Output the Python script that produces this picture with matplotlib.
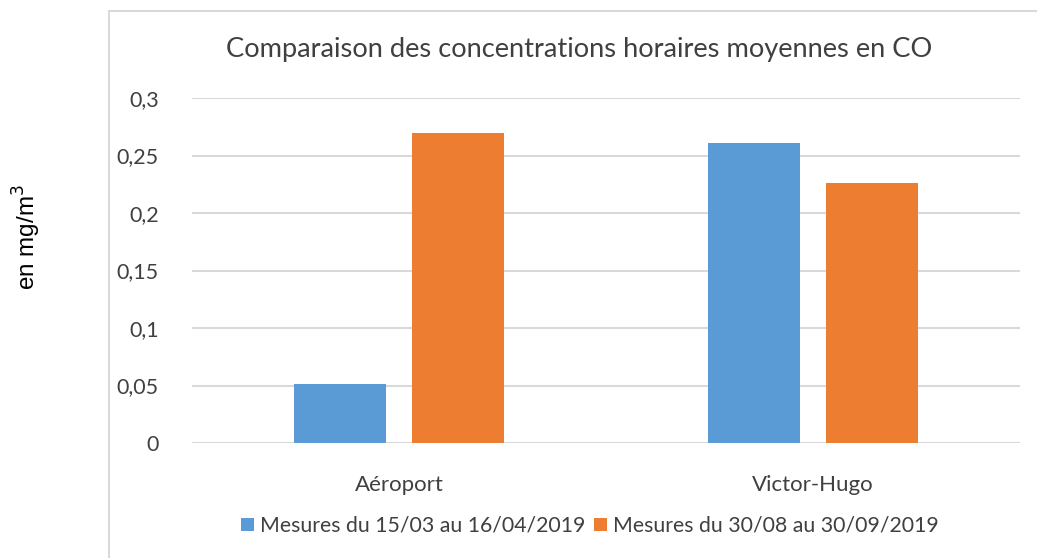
import matplotlib
matplotlib.use("Agg")
import matplotlib.pyplot as plt
import numpy as np
from matplotlib.patches import Rectangle

categories = ["Aéroport", "Victor-Hugo"]
series_names = ["Mesures du 15/03 au 16/04/2019", "Mesures du 30/08 au 30/09/2019"]
values_spring = [0.051, 0.261]
values_autumn = [0.27, 0.226]
yticks = [0, 0.05, 0.1, 0.15, 0.2, 0.25, 0.3]
ytick_labels = ["0", "0,05", "0,1", "0,15", "0,2", "0,25", "0,3"]
title = "Comparaison des concentrations horaires moyennes en CO"
ylabel = "en mg/m$^3$"

W, H = 1037, 558
fig = plt.figure(figsize=(W / 100, H / 100), dpi=100)
font = "Lato"
txt = "#404040"

# chart border
fig.add_artist(Rectangle((109 / W, -0.05), 1.0, 1 - 11 / H + 0.05, transform=fig.transFigure,
                         fill=False, edgecolor="#d9d9d9", linewidth=1.5))

ax = fig.add_axes([192 / W, 1 - 443 / H, (1020 - 192) / W, (443 - 98) / H])
x = np.arange(len(categories))
bw = 0.222
off = 0.1435
ax.bar(x - off, values_spring, bw, color="#5b9bd5", zorder=3, label=series_names[0])
ax.bar(x + off, values_autumn, bw, color="#ed7d31", zorder=3, label=series_names[1])
ax.set_xlim(-0.5, 1.5)
ax.set_ylim(0, 0.3)
ax.set_yticks(yticks)
ax.set_yticklabels(ytick_labels, fontname=font, fontsize=15.5, color=txt)
ax.set_xticks(x)
ax.set_xticklabels(categories, fontname=font, fontsize=16, color=txt)
ax.tick_params(axis="both", length=0)
ax.tick_params(axis="y", pad=24)
ax.tick_params(axis="x", pad=23)
ax.grid(axis="y", color="#d9d9d9", linewidth=1.5, zorder=0)
for s in ax.spines.values():
    s.set_visible(False)

fig.text(579 / W, 1 - 50 / H, title, ha="center", va="center", fontname=font, fontsize=19.6, color=txt)
fig.text(27 / W, 1 - 237 / H, ylabel, ha="center", va="center", rotation=90,
         fontname="Liberation Sans", fontsize=17.5, color="black")

handles, labels = ax.get_legend_handles_labels()
leg = fig.legend(handles, labels, loc="center", bbox_to_anchor=(590 / W, 1 - 526 / H), ncol=2,
                 frameon=False, prop={"family": font, "size": 15.3}, handlelength=0.6, handleheight=0.6,
                 handletextpad=0.3, columnspacing=0.4)
for t in leg.get_texts():
    t.set_color(txt)

fig.savefig("out.png", dpi=100)
